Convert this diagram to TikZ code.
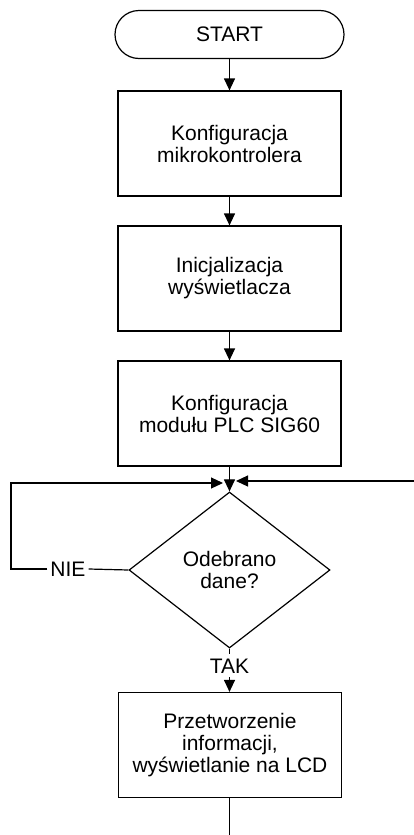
\documentclass[tikz,border=0pt]{standalone}
\usepackage{fontspec}
\setmainfont{Liberation Sans}
\usetikzlibrary{shapes.geometric,arrows.meta}
\begin{document}
\begin{tikzpicture}[x=1pt,y=-1pt,
  every node/.style={font=\fontsize{21}{22}\selectfont, align=center},
  stepbox/.style={draw, line width=1.2pt, minimum width=223pt, minimum height=105pt, inner sep=0pt},
  termbox/.style={draw, line width=1.2pt, rounded corners=24pt, minimum width=229pt, minimum height=48pt, inner sep=0pt},
  decbox/.style={draw, diamond, line width=1.2pt, minimum width=201pt, minimum height=156pt, inner sep=0pt, aspect=1.29},
  lbl/.style={inner xsep=3pt, inner ysep=4pt, text height=15pt, text depth=0pt},
  ln/.style={line width=1.2pt},
  arr/.style={line width=1.2pt, -{Triangle[length=12pt,width=11pt]}}]
\useasboundingbox (0,0) rectangle (414,835);
\node[termbox] (start) at (229.5,34.5) {START};
\node[stepbox] (b1) at (229.5,143.5) {Konfiguracja\\mikrokontrolera};
\node[stepbox] (b2) at (229.5,278.5) {Inicjalizacja\\wyświetlacza};
\node[stepbox] (b3) at (229.5,413.5) {Konfiguracja\\modułu PLC SIG60};
\node[decbox] (d) at (229.5,570) {Odebrano\\dane?};
\node[lbl] (nie) at (68,569) {NIE};
\node[lbl] (tak) at (229.5,665.5) {TAK};
\node[stepbox] (b4) at (230,745) {Przetworzenie\\informacji,\\wyświetlanie na LCD};
\coordinate (loopTL) at (11,483);
\coordinate (jl) at (223,483);
\coordinate (rin) at (414,481);
\coordinate (jr) at (236,481);
\coordinate (endpt) at (229.5,835);
\draw[arr] (start) -- (b1);
\draw[arr] (b1) -- (b2);
\draw[arr] (b2) -- (b3);
\draw[arr] (b3) -- (d);
\draw[ln] (d.west) -- (nie.east);
\draw[arr] (nie.west) -| (loopTL) -- (jl);
\draw[arr] (rin) -- (jr);
\draw[ln] (d.south) -- (tak.north);
\draw[arr] (tak.south) -- (b4.north -| tak.south);
\draw[ln] (b4.south -| tak.south) -- (endpt);
\end{tikzpicture}
\end{document}
